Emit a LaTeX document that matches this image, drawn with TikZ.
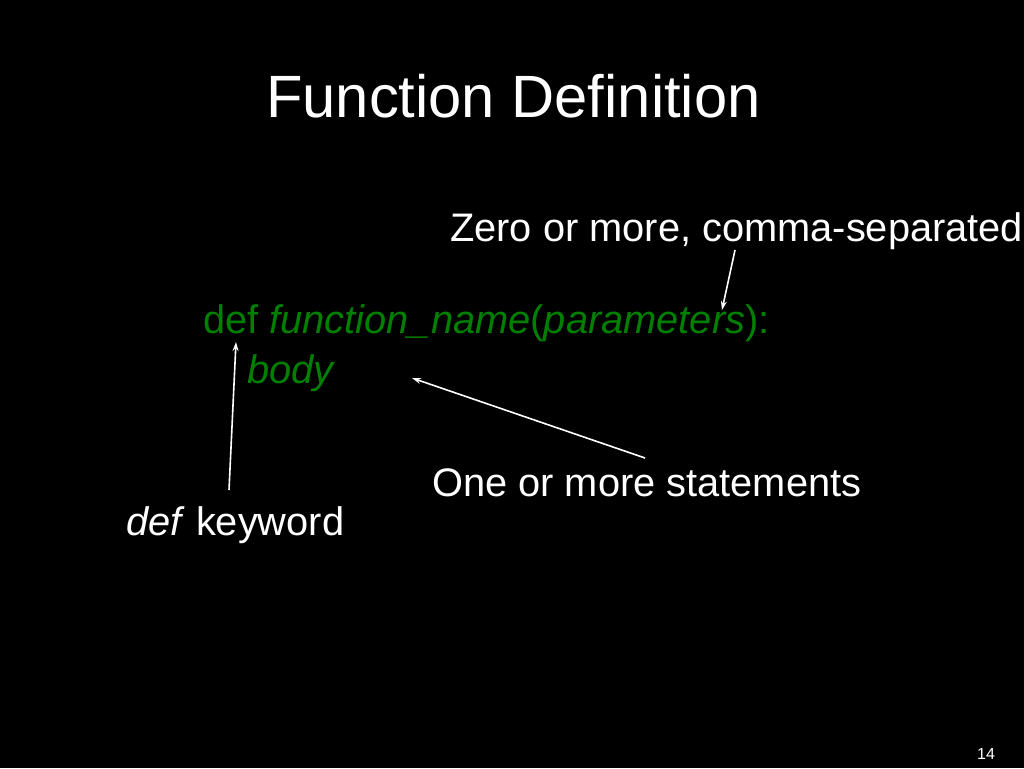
\documentclass[tikz,border=0pt]{standalone}
\usepackage{fontspec}
\setmainfont{Liberation Sans}
\usetikzlibrary{arrows.meta}
\definecolor{codegreen}{RGB}{0,128,0}
\tikzset{
	txt/.style={anchor=base west, inner sep=0pt, text=white, font=\fontsize{39.8}{44}\selectfont},
	code/.style={txt, text=codegreen},
	pointer/.style={draw=white, line width=1.6pt, -{Stealth[length=9pt,width=6pt]}}
}
\begin{document}
\begin{tikzpicture}[x=1pt,y=-1pt]
	\fill[black] (0,0) rectangle (1024,768);
	\useasboundingbox (0,0) rectangle (1024,768);

	\node[txt, font=\fontsize{59.7}{64}\selectfont] (title) at (266,117) {Function Definition};

	\node[txt] (params) at (450,241) {Zero or more, comma-separated};
	\node[code] (defline) at (203,333) {def \textit{function\_name}(\textit{parameters}):};
	\node[code] (body) at (247,383) {\textit{body}};
	\node[txt] (stmts) at (432,496) {One or more statements};
	\node[txt] (kw) at (126,535) {\textit{def} keyword};
	\node[txt, font=\fontsize{16}{18}\selectfont] (page) at (977,759) {14};

	% pointers
	\coordinate (paramsTip) at (722,310);
	\coordinate (kwTip) at (236,342);
	\coordinate (bodyTip) at (412,378);
	\draw[pointer] (735,250) -- (paramsTip);
	\draw[pointer] (229,490) -- (kwTip);
	\draw[pointer] (645,458) -- (bodyTip);
\end{tikzpicture}
\end{document}
